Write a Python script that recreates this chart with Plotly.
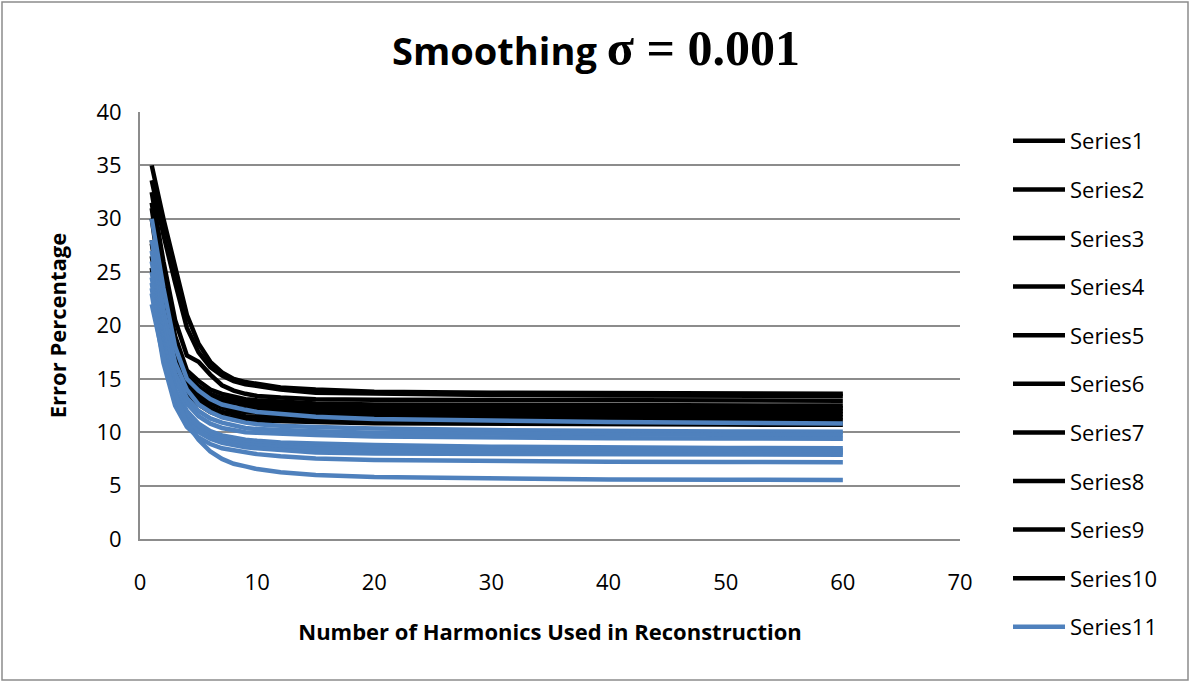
import plotly.graph_objects as go

harmonics = [1, 2, 3, 4, 5, 6, 7, 8, 9, 10, 12, 15, 20, 30, 40, 50, 60]

series1 = [35.0, 30.0, 25.5, 21.0, 18.3, 16.6, 15.6, 15.0, 14.7, 14.5, 14.2, 14.0, 13.8, 13.7, 13.65, 13.6, 13.6]
series2 = [33.6, 28.5, 24.0, 19.8, 17.5, 16.1, 15.3, 14.8, 14.5, 14.3, 14.0, 13.7, 13.6, 13.5, 13.45, 13.4, 13.4]
series3 = [32.5, 26.0, 20.5, 17.2, 16.6, 15.4, 14.4, 13.9, 13.6, 13.4, 13.25, 13.1, 13.05, 13.0, 12.97, 12.96, 12.95]
series4 = [31.5, 24.5, 19.0, 15.8, 14.8, 14.0, 13.6, 13.3, 13.1, 13.0, 12.85, 12.7, 12.6, 12.55, 12.52, 12.5, 12.5]
series5 = [31.0, 23.5, 18.5, 15.3, 14.3, 13.6, 13.2, 13.0, 12.8, 12.7, 12.55, 12.4, 12.32, 12.28, 12.26, 12.25, 12.25]
series6 = [30.0, 22.5, 17.5, 15.0, 14.0, 13.3, 12.9, 12.7, 12.5, 12.4, 12.25, 12.15, 12.08, 12.03, 12.01, 12.0, 12.0]
series7 = [28.0, 21.5, 17.0, 14.6, 13.7, 13.0, 12.6, 12.3, 12.2, 12.1, 12.0, 11.9, 11.8, 11.75, 11.72, 11.7, 11.7]
series8 = [27.7, 21.0, 16.5, 14.3, 13.4, 12.7, 12.3, 12.0, 11.9, 11.8, 11.7, 11.6, 11.5, 11.45, 11.42, 11.4, 11.4]
series9 = [26.5, 20.0, 16.0, 14.0, 13.0, 12.3, 11.9, 11.7, 11.5, 11.45, 11.38, 11.3, 11.2, 11.15, 11.12, 11.1, 11.1]
series10 = [25.4, 19.0, 15.5, 13.7, 12.6, 11.9, 11.5, 11.3, 11.15, 11.1, 11.02, 10.95, 10.85, 10.78, 10.74, 10.72, 10.7]
series11 = [30.0, 23.5, 18.0, 15.0, 13.9, 13.1, 12.6, 12.3, 12.1, 11.9, 11.7, 11.45, 11.25, 11.05, 10.95, 10.88, 10.82]
series12 = [28.0, 21.5, 16.5, 14.0, 12.6, 11.9, 11.4, 11.1, 10.9, 10.75, 10.6, 10.5, 10.35, 10.2, 10.1, 10.07, 10.05]
series13 = [27.0, 20.5, 15.5, 13.2, 12.0, 11.3, 10.9, 10.6, 10.4, 10.3, 10.2, 10.1, 9.95, 9.85, 9.79, 9.76, 9.75]
series14 = [26.0, 19.5, 14.8, 12.7, 11.5, 10.8, 10.4, 10.2, 10.0, 9.95, 9.85, 9.75, 9.6, 9.5, 9.44, 9.41, 9.4]
series15 = [25.0, 18.5, 14.0, 12.0, 10.8, 10.1, 9.7, 9.45, 9.3, 9.2, 9.05, 8.95, 8.8, 8.65, 8.56, 8.52, 8.5]
series16 = [24.5, 18.0, 13.5, 11.6, 10.5, 9.8, 9.4, 9.2, 9.05, 8.95, 8.8, 8.65, 8.5, 8.4, 8.35, 8.32, 8.3]
series17 = [24.0, 17.5, 13.2, 11.3, 10.2, 9.6, 9.2, 9.0, 8.85, 8.75, 8.6, 8.45, 8.3, 8.2, 8.15, 8.12, 8.1]
series18 = [23.5, 17.0, 13.0, 11.0, 10.0, 9.4, 9.0, 8.75, 8.6, 8.5, 8.3, 8.1, 8.0, 7.95, 7.92, 7.9, 7.9]
series19 = [23.0, 16.5, 12.5, 10.5, 9.5, 8.9, 8.5, 8.3, 8.1, 7.95, 7.75, 7.55, 7.4, 7.28, 7.24, 7.22, 7.2]
series20 = [22.0, 17.0, 13.6, 10.8, 9.3, 8.2, 7.5, 7.05, 6.8, 6.55, 6.25, 6.0, 5.8, 5.65, 5.58, 5.55, 5.53]

all_series = [series1, series2, series3, series4, series5, series6, series7, series8, series9, series10,
              series11, series12, series13, series14, series15, series16, series17, series18, series19, series20]
names = ["Series%d" % (i + 1) for i in range(len(all_series))]

BLACK = "#000000"
BLUE = "#4F81BD"
GRID = "#8C8C8C"
FONT = "Open Sans, Liberation Sans, sans-serif"

fig = go.Figure()
for i, (nm, vals) in enumerate(zip(names, all_series)):
    fig.add_trace(go.Scatter(
        x=harmonics, y=vals, mode="lines", name=nm,
        line=dict(color=BLACK if i < 10 else BLUE, width=4.5),
        legendgroup=nm, showlegend=(i < 11),
    ))

W, H = 1191, 682
ml, mr, mt, mb = 140, 231, 112, 143
pw, ph = W - ml - mr, H - mt - mb

def px_x(p):
    return (p - ml) / pw

def px_y(p):
    return (H - mb - p) / ph

fig.update_layout(
    width=W, height=H,
    margin=dict(l=ml, r=mr, t=mt, b=mb),
    paper_bgcolor="white", plot_bgcolor="white",
    font=dict(family=FONT, size=22, color="#000000"),
    title=dict(
        text="<b>Smoothing </b><b><span style='font-family:Liberation Serif;font-size:50px'>σ = 0.001</span></b>",
        x=596 / W, xanchor="center", xref="container", y=1 - 52 / H, yanchor="middle",
        font=dict(size=38, family=FONT),
    ),
    xaxis=dict(
        range=[0, 70], dtick=10, tick0=0, showgrid=False, zeroline=False,
        showline=True, linecolor=GRID, linewidth=2, ticks="",
        tickfont=dict(size=22), ticklabelstandoff=23,
        title=dict(text="<b>Number of Harmonics Used in Reconstruction</b>",
                   font=dict(size=22), standoff=29),
    ),
    yaxis=dict(
        range=[0, 40], dtick=5, tick0=0, showgrid=True, gridcolor=GRID, gridwidth=1.5,
        zeroline=False, showline=True, linecolor=GRID, linewidth=2, ticks="",
        tickfont=dict(size=22), ticklabelstandoff=12,
        title=dict(text="<b>Error Percentage</b>", font=dict(size=22), standoff=24),
    ),
    legend=dict(
        x=px_x(1008), xanchor="left", y=px_y(120), yanchor="top",
        traceorder="grouped", tracegroupgap=17, maxheight=620,
        font=dict(size=22), bgcolor="rgba(0,0,0,0)", itemwidth=52,
    ),
    shapes=[dict(type="rect", xref="paper", yref="paper",
                 x0=px_x(2), x1=px_x(1188), y0=px_y(680), y1=px_y(2),
                 line=dict(color=GRID, width=1.5), fillcolor="rgba(0,0,0,0)", layer="below")],
    showlegend=True,
)

fig.write_html("out.html", config={"displayModeBar": False},
               post_script="document.body.style.margin='0px';")
